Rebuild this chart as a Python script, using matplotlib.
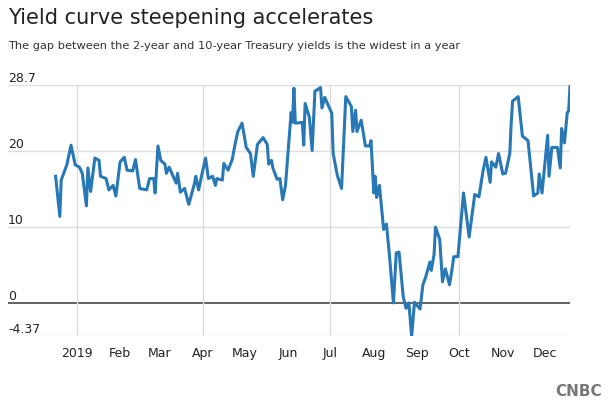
import matplotlib.pyplot as plt
import matplotlib.transforms as mtransforms
import pandas as pd

# days after 2019-01-01 and the 2s/10s spread in basis points
days = [-15, -12, -11, -7, -4, -1, 2, 4, 7, 8, 10, 13, 16, 17, 21, 23, 26, 28, 31, 34,
        36, 40, 42, 45, 50, 52, 55, 56, 58, 60, 63, 64, 66, 71, 72, 74, 77, 80, 84, 85,
        87, 90, 92, 94, 97, 99, 100, 104, 105, 108, 111, 113, 115, 118, 121, 124, 126, 129, 133, 136,
        137, 139, 140, 143, 145, 147, 149, 153, 154, 155, 156, 161, 162, 163, 166, 168, 170, 174, 175, 177,
        182, 183, 186, 189, 192, 196, 197, 199, 200, 203, 206, 209, 210, 212, 213, 214, 216, 219, 221, 223,
        226, 228, 230, 233, 235, 237, 239, 241, 245, 247, 249, 252, 253, 255, 256, 259, 261, 263, 266, 268,
        269, 272, 276, 280, 284, 287, 290, 292, 295, 296, 299, 301, 304, 306, 309, 310, 311, 315, 318, 322,
        326, 329, 330, 332, 336, 337, 339, 343, 345, 346, 348, 350, 351, 352]
spread = [16.7, 11.4, 16.2, 18.2, 20.8, 18.2, 17.9, 17.1, 12.8, 17.8, 14.7, 19.1, 18.8, 16.7, 16.4, 14.9, 15.5, 14.1, 18.6, 19.2,
          17.5, 17.4, 18.9, 15.1, 14.9, 16.4, 16.4, 14.5, 20.7, 18.8, 18.3, 17.1, 17.9, 15.8, 17.1, 14.6, 15.1, 13.0, 15.7, 16.7,
          14.9, 17.5, 19.1, 16.4, 16.7, 15.5, 16.4, 16.2, 18.4, 17.5, 18.9, 20.9, 22.6, 23.7, 20.5, 19.7, 16.7, 20.9, 21.8, 20.9,
          18.3, 18.8, 17.8, 16.3, 16.4, 13.6, 15.5, 25.1, 23.8, 28.3, 23.7, 23.8, 20.8, 26.3, 24.5, 20.1, 27.9, 28.4, 25.7, 27.1,
          25.0, 19.7, 16.8, 15.1, 27.2, 25.9, 22.6, 25.4, 22.6, 24.1, 20.7, 20.7, 21.4, 14.5, 16.7, 13.9, 15.5, 9.7, 10.4, 6.6,
          0.0, 6.6, 6.7, 0.8, -0.7, 0.0, -4.4, 0.1, -0.8, 2.4, 3.4, 5.4, 4.3, 6.4, 10.0, 8.4, 2.8, 4.5, 2.4, 4.7,
          6.1, 6.1, 14.5, 8.7, 14.3, 14.0, 17.5, 19.2, 15.9, 18.6, 17.9, 19.7, 17.0, 17.1, 19.7, 23.7, 26.6, 27.2, 22.0, 21.4,
          14.1, 14.5, 17.0, 14.5, 22.1, 16.7, 20.5, 20.5, 17.8, 23.0, 21.1, 25.1, 25.3, 28.7]
ytick_vals = [28.7, 20, 10, 0, -4.37]
ytick_text = ['28.7', '20', '10', '0', '-4.37']
month_labels = ['2019', 'Feb', 'Mar', 'Apr', 'May', 'Jun', 'Jul', 'Aug', 'Sep', 'Oct', 'Nov', 'Dec']

start = pd.Timestamp('2019-01-01')
dates = [start + pd.Timedelta(days=d) for d in days]
months = pd.date_range('2019-01-01', periods=12, freq='MS')

fig = plt.figure(figsize=(6.11, 4.04), dpi=100)
ax = fig.add_axes([0.013, 0.168, 0.92, 0.621])

ax.set_xlim(start - pd.Timedelta(days=49), start + pd.Timedelta(days=352))
ax.set_ylim(-4.37, 28.7)
for v in ytick_vals:
    ax.axhline(v, color='#555555' if v == 0 else '#dddddd', lw=1.3 if v == 0 else 1, zorder=1)
for q in [months[0], months[3], months[6], months[9]]:
    ax.axvline(q, color='#dddddd', lw=1, zorder=1)
ax.plot(dates, spread, color='#2878b5', lw=2.2, zorder=3)

trans = mtransforms.blended_transform_factory(ax.transAxes, ax.transData)
for v, t in zip(ytick_vals, ytick_text):
    ax.text(0.0, v, t, transform=trans, fontsize=9, color='#222222', va='bottom', ha='left')

ax.set_xticks(months)
ax.set_xticklabels(month_labels, fontsize=9, color='#222222')
ax.tick_params(length=0, pad=8)
ax.set_yticks([])
for s in ax.spines.values():
    s.set_visible(False)

fig.text(0.013, 0.955, 'Yield curve steepening accelerates', fontsize=15, color='#222222', va='center')
fig.text(0.013, 0.885, 'The gap between the 2-year and 10-year Treasury yields is the widest in a year',
         fontsize=8.2, color='#333333', va='center')
fig.text(0.985, 0.03, 'CNBC', fontsize=11, fontweight='bold', color='#777777', ha='right', va='center')

fig.savefig('out.png', dpi=100)
